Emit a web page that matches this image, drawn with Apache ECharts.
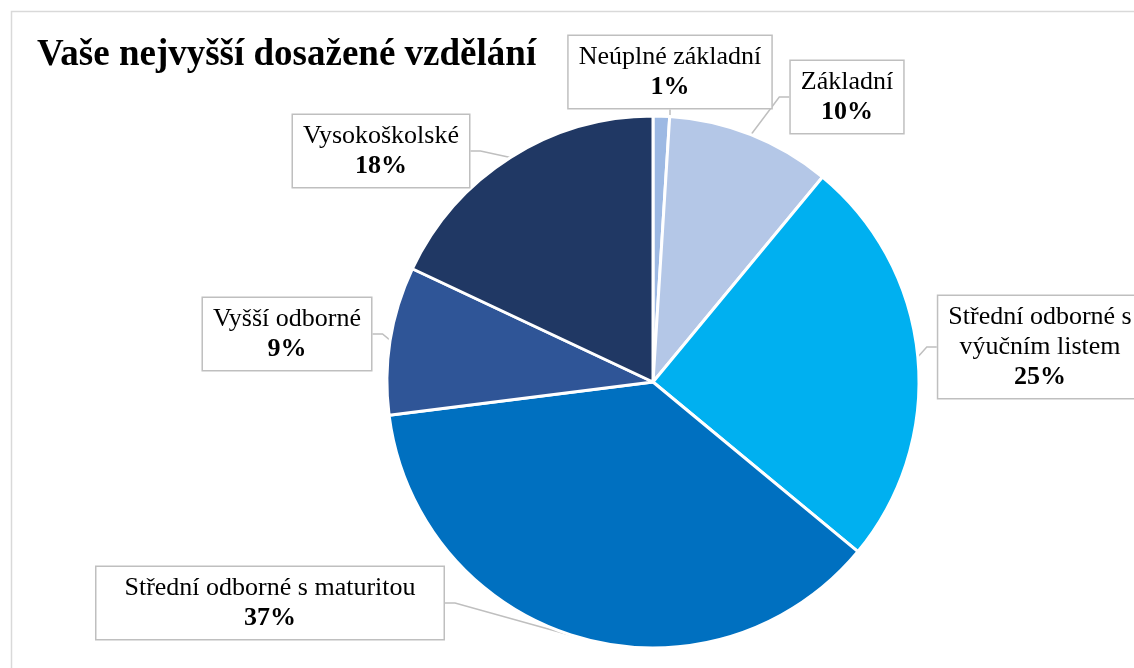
<!DOCTYPE html>
<html>
<head>
<meta charset="utf-8">
<script src="https://cdn.jsdelivr.net/npm/echarts@6/dist/echarts.min.js"></script>
<style>
  html, body { margin: 0; padding: 0; background: #fff; }
  #chart { width: 1134px; height: 668px; }
</style>
</head>
<body>
<div id="chart"></div>
<script>
const categories = ['Neúplné základní', 'Základní', 'Střední odborné s výučním listem',
  'Střední odborné s maturitou', 'Vyšší odborné', 'Vysokoškolské'];
const labelNames = ['Neúplné základní', 'Základní', 'Střední odborné s\nvýučním listem',
  'Střední odborné s maturitou', 'Vyšší odborné', 'Vysokoškolské'];
const values = [1, 10, 25, 37, 9, 18];
const colors = ['#9DB9E3', '#B4C7E7', '#00B0F0', '#0070C0', '#2F5597', '#203864'];

// label box centres, roughly where Excel put them
const labelPos = [[670, 72], [847, 97], [1040, 347], [270, 603], [287, 334], [381, 151]];

const serif = "'Liberation Serif', 'Times New Roman', serif";
const chart = echarts.init(document.getElementById('chart'));

const option = {
  animation: false,
  backgroundColor: '#fff',
  graphic: [{
    type: 'rect',
    shape: { x: 11.5, y: 11.5, width: 1200, height: 700 },
    style: { fill: 'none', stroke: '#D9D9D9', lineWidth: 1.5 },
    silent: true
  }],
  title: {
    text: 'Vaše nejvyšší dosažené vzdělání',
    left: 32,
    top: 32,
    textStyle: { fontFamily: serif, fontWeight: 'bold', fontSize: 37, color: '#000' }
  },
  series: [{
    type: 'pie',
    center: [653, 382],
    radius: 266,
    startAngle: 90,
    clockwise: true,
    avoidLabelOverlap: false,
    itemStyle: { borderColor: '#fff', borderWidth: 3 },
    emphasis: { disabled: true },
    label: {
      show: true,
      position: 'outside',
      formatter: p => '{n|' + labelNames[p.dataIndex].split('\n').join('}\n{n|') + '}\n{p|' + p.value + '%}',
      backgroundColor: '#fff',
      borderColor: '#BFBFBF',
      borderWidth: 1.5,
      padding: [6, 10, 6, 10],
      align: 'center',
      verticalAlign: 'middle',
      rich: {
        n: { fontFamily: serif, fontSize: 26, lineHeight: 30, color: '#000', align: 'center' },
        p: { fontFamily: serif, fontSize: 26, lineHeight: 30, fontWeight: 'bold', color: '#000', align: 'center' }
      }
    },
    labelLine: {
      show: true,
      length: 10,
      length2: 10,
      lineStyle: { color: '#BFBFBF', width: 1.5 }
    },
    labelLayout: params => ({
      x: labelPos[params.dataIndex][0],
      y: labelPos[params.dataIndex][1],
      align: 'center',
      verticalAlign: 'middle'
    }),
    data: categories.map((name, i) => ({
      name: name,
      value: values[i],
      itemStyle: { color: colors[i] },
      label: i === 3 ? { padding: [6, 28, 6, 28] } : undefined
    }))
  }]
};
chart.setOption(option);
</script>
</body>
</html>
